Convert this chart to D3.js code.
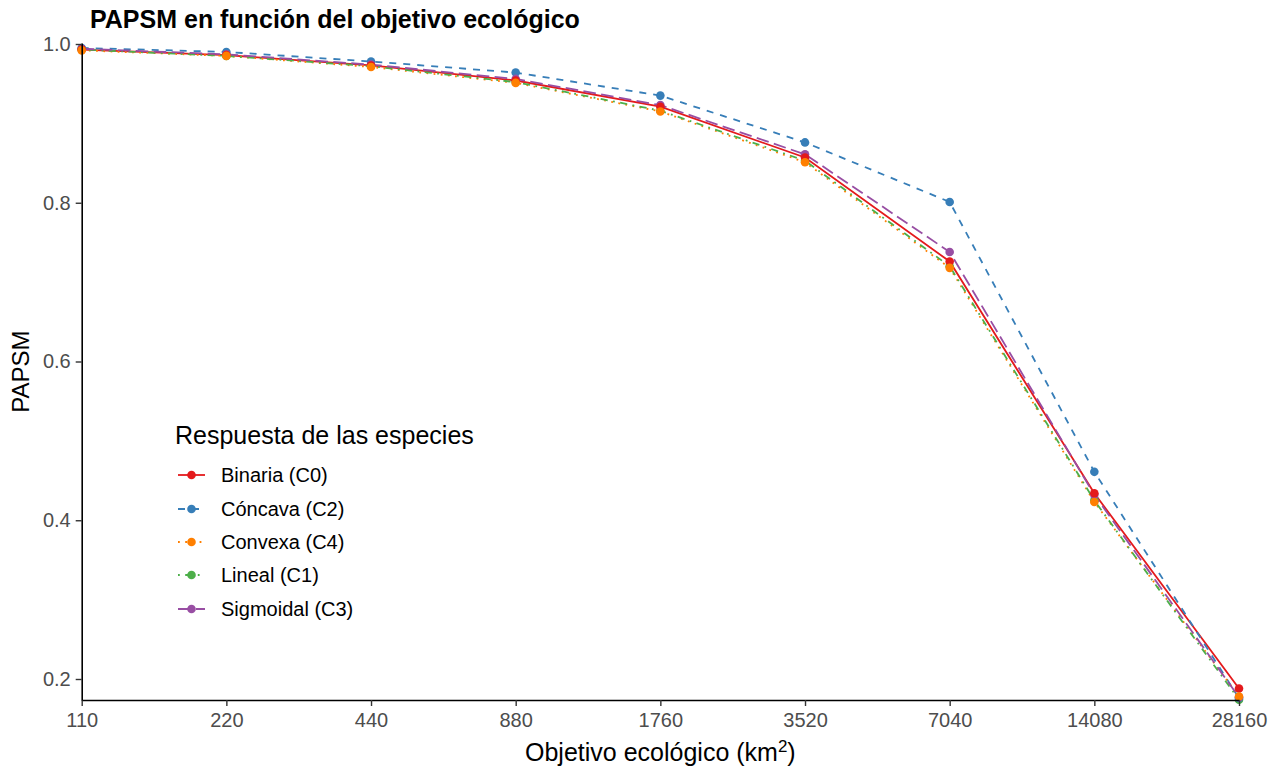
<!DOCTYPE html>
<html><head><meta charset="utf-8">
<script src="https://cdn.jsdelivr.net/npm/d3@7"></script>
<style>body{margin:0;background:#fff;} text{font-family:"Liberation Sans",Arial,sans-serif;}</style>
</head><body><svg id="chart" width="1285" height="767"></svg>
<script>
const xValues = [110, 220, 440, 880, 1760, 3520, 7040, 14080, 28160];
const seriesNames = ["Binaria (C0)", "Cóncava (C2)", "Convexa (C4)", "Lineal (C1)", "Sigmoidal (C3)"];
const binaria   = [0.993, 0.986, 0.973, 0.954, 0.921, 0.857, 0.726, 0.434, 0.188];
const concava   = [0.995, 0.990, 0.978, 0.964, 0.935, 0.876, 0.801, 0.461, 0.176];
const convexa   = [0.992, 0.985, 0.971, 0.951, 0.915, 0.851, 0.718, 0.423, 0.178];
const lineal    = [0.993, 0.985, 0.972, 0.952, 0.916, 0.853, 0.720, 0.425, 0.174];
const sigmoidal = [0.994, 0.987, 0.974, 0.956, 0.923, 0.861, 0.738, 0.432, 0.177];
const yTicks = [0.2, 0.4, 0.6, 0.8, 1.0];
const colors = ["#E41A1C", "#377EB8", "#FF7F00", "#4DAF4A", "#984EA3"];
const dashes = [null, "7,7", "1.8,5.4", "1.8,5.4,7.2,5.4", "12.6,5.4"];

const series = [binaria, concava, convexa, lineal, sigmoidal].map((v, i) => ({
  name: seriesNames[i], color: colors[i], dash: dashes[i],
  pts: v.map((y, j) => ({x: xValues[j], y}))
}));

const svg = d3.select("#chart");
const L = 81.7, R = 1239, T = 43, B = 700;
const x = d3.scaleLog().base(2).domain([110, 28160]).range([L, R]);
const y = d3.scaleLinear().domain([0.17354, 1.00126]).range([B, T]);

// lines
const line = d3.line().x(d => x(d.x)).y(d => y(d.y));
svg.append("g").selectAll("path").data(series).join("path")
  .attr("d", d => line(d.pts)).attr("fill", "none")
  .attr("stroke", d => d.color).attr("stroke-width", 1.8)
  .attr("stroke-dasharray", d => d.dash);

// points (draw order so that Convexa ends on top)
const ptOrder = [3, 1, 4, 0, 2];
const pg = svg.append("g");
ptOrder.forEach(i => {
  pg.append("g").selectAll("circle").data(series[i].pts).join("circle")
    .attr("cx", d => x(d.x)).attr("cy", d => y(d.y)).attr("r", 4.3)
    .attr("fill", series[i].color);
});

// axes
const xAxis = d3.axisBottom(x).tickValues(xValues).tickFormat(d3.format("d")).tickSize(6).tickSizeOuter(0);
const gx = svg.append("g").attr("transform", `translate(0,${B})`).call(xAxis);
const yAxis = d3.axisLeft(y).tickValues(yTicks).tickFormat(d3.format(".1f")).tickSize(6).tickSizeOuter(0);
const gy = svg.append("g").attr("transform", `translate(${L},0)`).call(yAxis);
[gx, gy].forEach(g => {
  g.select(".domain").attr("stroke", "#000").attr("stroke-width", 1.6);
  g.selectAll(".tick line").attr("stroke", "#333").attr("stroke-width", 1.4);
  g.selectAll(".tick text").attr("fill", "#4D4D4D").style("font-size", "20px")
   .style("font-family", "Liberation Sans, Arial, sans-serif");
});
gx.selectAll(".tick text").attr("dy", "0.9em");
gy.selectAll(".tick text").attr("x", -11);

// title
svg.append("text").attr("x", 90).attr("y", 28).text("PAPSM en función del objetivo ecológico")
  .style("font-size", "25px").style("font-weight", "bold").attr("fill", "#000");

// axis titles
const xt = svg.append("text").attr("x", (L + R) / 2).attr("y", 761).attr("text-anchor", "middle")
  .style("font-size", "25px").attr("fill", "#000");
xt.append("tspan").text("Objetivo ecológico (km");
xt.append("tspan").text("2").style("font-size", "17px").attr("dy", -9);
xt.append("tspan").text(")").attr("dy", 9);

svg.append("text").attr("transform", `translate(29,${(T + B) / 2}) rotate(-90)`)
  .attr("text-anchor", "middle").style("font-size", "24px").attr("fill", "#000").text("PAPSM");

// legend
const lg = svg.append("g");
lg.append("text").attr("x", 175).attr("y", 444).style("font-size", "25px").attr("fill", "#000")
  .text("Respuesta de las especies");
const ly = [475, 509, 542, 575, 609];
series.forEach((s, i) => {
  const g = lg.append("g").attr("transform", `translate(0,${ly[i]})`);
  g.append("line").attr("x1", 178).attr("x2", 205).attr("y1", 0).attr("y2", 0)
    .attr("stroke", s.color).attr("stroke-width", 1.8).attr("stroke-dasharray", s.dash);
  g.append("circle").attr("cx", 191.5).attr("cy", 0).attr("r", 4.3).attr("fill", s.color);
  g.append("text").attr("x", 221).attr("y", 0).attr("dy", "0.35em").style("font-size", "20px")
    .attr("fill", "#000").text(s.name);
});
</script></body></html>
